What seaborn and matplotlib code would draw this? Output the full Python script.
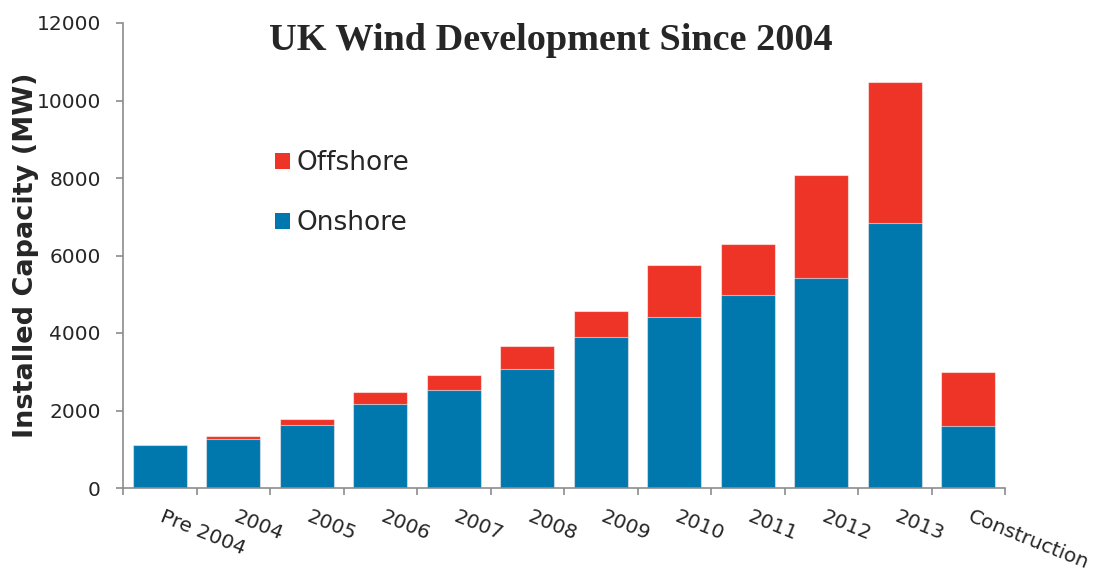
import numpy as np
import pandas as pd
import matplotlib
matplotlib.use("Agg")
import matplotlib.pyplot as plt
from matplotlib.patches import Patch
from matplotlib.ticker import FixedLocator, NullFormatter
import seaborn as sns

# Installed UK wind capacity (MW) by year of commissioning
categories = ["Pre 2004", "2004", "2005", "2006", "2007", "2008",
              "2009", "2010", "2011", "2012", "2013", "Construction"]
onshore = [1100, 1260, 1630, 2170, 2520, 3060, 3890, 4420, 4970, 5420, 6830, 1590]
offshore = [0, 90, 140, 300, 400, 600, 670, 1340, 1330, 2670, 3650, 1410]
y_ticks = [0, 2000, 4000, 6000, 8000, 10000, 12000]

df = pd.DataFrame({"category": categories, "onshore": onshore, "offshore": offshore})
df["total"] = df["onshore"] + df["offshore"]

BLUE = "#0078AE"
RED = "#EE3426"
GREY = "#8c8c8c"

sns.set_theme(style="white")
plt.rcParams["font.family"] = ["DejaVu Sans"]

fig = plt.figure(figsize=(10.96, 5.76), dpi=100)
ax = fig.add_axes([123 / 1096, 88 / 576, 882 / 1096, 465 / 576])

bar_kw = dict(width=0.735, saturation=1, edgecolor=(1, 1, 1, 0.55), linewidth=0.8, ax=ax)
# stacked bars: full height in red, onshore share drawn over it in blue
sns.barplot(data=df, x="category", y="total", color=RED, **bar_kw)
sns.barplot(data=df, x="category", y="onshore", color=BLUE, **bar_kw)

n = len(categories)
ax.set_xlim(-0.5, n - 0.5)
ax.set_ylim(0, 12000)
ax.set_yticks(y_ticks)
ax.set_yticklabels([str(v) for v in y_ticks])

# tick marks between categories, slanted labels starting at each bar's centre
ax.xaxis.set_major_locator(FixedLocator(np.arange(-0.5, n, 1.0)))
ax.xaxis.set_major_formatter(NullFormatter())
ax.xaxis.set_minor_locator(FixedLocator(np.arange(n) + 0.06))
ax.set_xticklabels(categories, minor=True)
ax.tick_params(axis="x", which="minor", length=0, pad=14, labelsize=14.5)
ax.tick_params(axis="x", which="major", length=5, width=1.2, color=GREY, direction="out", bottom=True)
for lbl in ax.get_xticklabels(minor=True):
    lbl.set_rotation(-22)
    lbl.set_ha("left")
    lbl.set_va("top")
    lbl.set_rotation_mode("anchor")

ax.tick_params(axis="y", length=5, width=1.2, color=GREY, direction="out", left=True,
               pad=11, labelsize=14.5)

for side in ("top", "right"):
    ax.spines[side].set_visible(False)
for side in ("left", "bottom"):
    ax.spines[side].set_color(GREY)
    ax.spines[side].set_linewidth(1.2)

ax.set_xlabel("")
ax.set_ylabel("Installed Capacity (MW)", fontsize=19.5, fontweight="bold", labelpad=-2)

handles = [Patch(facecolor=RED, edgecolor="none", label="Offshore"),
           Patch(facecolor=BLUE, edgecolor="none", label="Onshore")]
ax.legend(handles=handles, loc="upper left", bbox_to_anchor=(275 / 1096, 1 - 150 / 576),
          bbox_transform=fig.transFigure, frameon=False, fontsize=19,
          handlelength=0.57, handleheight=0.57, handletextpad=0.25, labelspacing=1.3,
          borderpad=0, borderaxespad=0)

fig.text(551 / 1096, 1 - 50 / 576, "UK Wind Development Since 2004",
         ha="center", va="baseline", fontsize=27.5, fontweight="bold",
         family=["Liberation Serif", "DejaVu Serif"])

fig.savefig("out.png", dpi=100, facecolor="white")
